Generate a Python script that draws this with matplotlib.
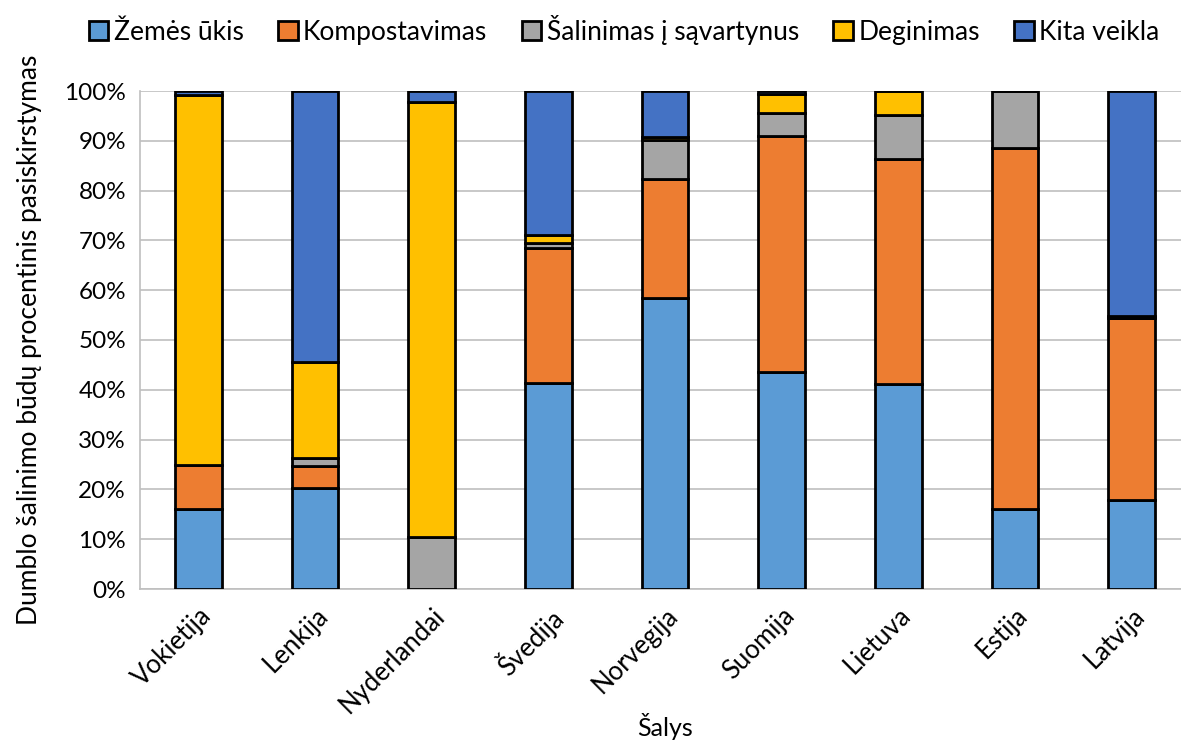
import matplotlib.pyplot as plt
import numpy as np

plt.rcParams['font.family'] = ['Lato', 'DejaVu Sans']

# Šalys ir dumblo šalinimo būdų dalys (%)
salys = ['Vokietija', 'Lenkija', 'Nyderlandai', 'Švedija', 'Norvegija',
         'Suomija', 'Lietuva', 'Estija', 'Latvija']
zemes_ukis = [16.0, 20.3, 0.0, 41.3, 58.4, 43.6, 41.2, 16.1, 17.9]
kompostavimas = [9.0, 4.3, 0.0, 27.1, 23.9, 47.4, 45.1, 72.4, 36.5]
salinimas = [0.0, 1.8, 10.4, 1.0, 7.9, 4.5, 8.9, 11.5, 0.0]
deginimas = [74.1, 19.1, 87.4, 1.7, 0.5, 3.9, 4.8, 0.0, 0.4]
kita = [0.9, 54.5, 2.2, 28.9, 9.3, 0.6, 0.0, 0.0, 45.2]

serijos = [
    ('Žemės ūkis', zemes_ukis, '#5B9BD5'),
    ('Kompostavimas', kompostavimas, '#ED7D31'),
    ('Šalinimas į sąvartynus', salinimas, '#A5A5A5'),
    ('Deginimas', deginimas, '#FFC000'),
    ('Kita veikla', kita, '#4472C4'),
]

fig = plt.figure(figsize=(11.81, 7.42), dpi=100)
ax = fig.add_axes([140 / 1181, 153 / 742, 1050 / 1181, 498 / 742])

x = np.arange(len(salys))
apacia = np.zeros(len(salys))
for pav, reiksmes, spalva in serijos:
    v = np.array(reiksmes)
    ax.bar(x, v, 0.4, bottom=apacia, color=spalva, edgecolor='black',
           linewidth=2, label=pav, zorder=3)
    apacia += v

ax.set_xlim(-0.5, len(salys) - 0.5)
ax.set_ylim(0, 100)
ax.set_yticks(np.arange(0, 101, 10))
ax.set_yticklabels([f'{t}%' for t in range(0, 101, 10)], fontsize=17.5)
ax.set_xticks(x)
ax.set_xticklabels(salys, rotation=45, ha='right', rotation_mode='anchor', fontsize=18.5)
ax.tick_params(length=0, pad=10)
ax.yaxis.grid(True, color='#BFBFBF', linewidth=1.2, zorder=0)

for s in ['top', 'right']:
    ax.spines[s].set_visible(False)
for s in ['left', 'bottom']:
    ax.spines[s].set_color('#BFBFBF')
    ax.spines[s].set_linewidth(1.2)

ax.set_ylabel('Dumblo šalinimo būdų procentinis pasiskirstymas', fontsize=19, labelpad=16)
ax.set_xlabel('Šalys', fontsize=18, va='center')
ax.xaxis.set_label_coords(0.5, -0.277)

fig.legend(*ax.get_legend_handles_labels(), loc='center', bbox_to_anchor=(624 / 1181, 1 - 30 / 742),
           ncol=5, frameon=False, fontsize=19, handlelength=0.75, handleheight=0.75,
           handletextpad=0.2, columnspacing=1.3, borderaxespad=0)

fig.savefig('out.png', dpi=100)
